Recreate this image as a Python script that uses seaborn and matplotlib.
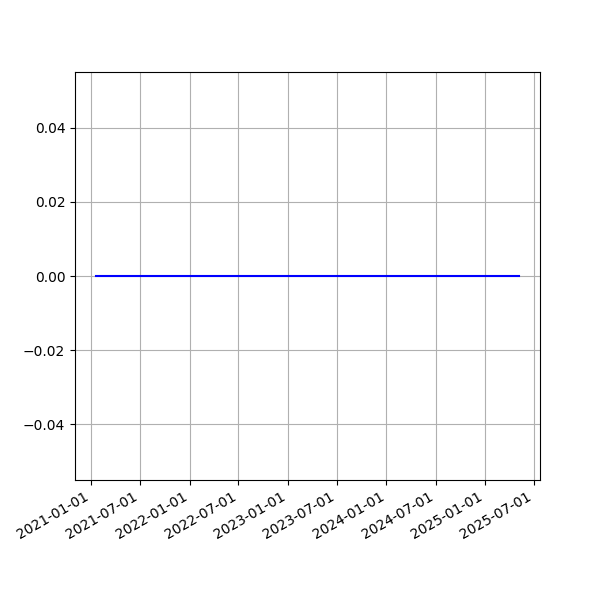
import matplotlib
matplotlib.use("Agg")
import matplotlib.pyplot as plt
import matplotlib.dates as mdates
import seaborn as sns
import pandas as pd

dates = ["2021-01-19", "2022-01-03", "2023-01-03", "2024-01-02", "2025-01-02", "2025-05-06"]
values = [0.0, 0.0, 0.0, 0.0, 0.0, 0.0]

df = pd.DataFrame({"date": pd.to_datetime(dates), "value": values})

fig, ax = plt.subplots(figsize=(6, 6), dpi=100)
sns.lineplot(data=df, x="date", y="value", ax=ax, color="blue", linewidth=1.5)
ax.set_xlabel("")
ax.set_ylabel("")
ax.xaxis.set_major_locator(mdates.MonthLocator(bymonth=[1, 7]))
ax.xaxis.set_major_formatter(mdates.DateFormatter("%Y-%m-%d"))
ax.grid(True)
fig.autofmt_xdate()
fig.savefig("out.png", dpi=100)
